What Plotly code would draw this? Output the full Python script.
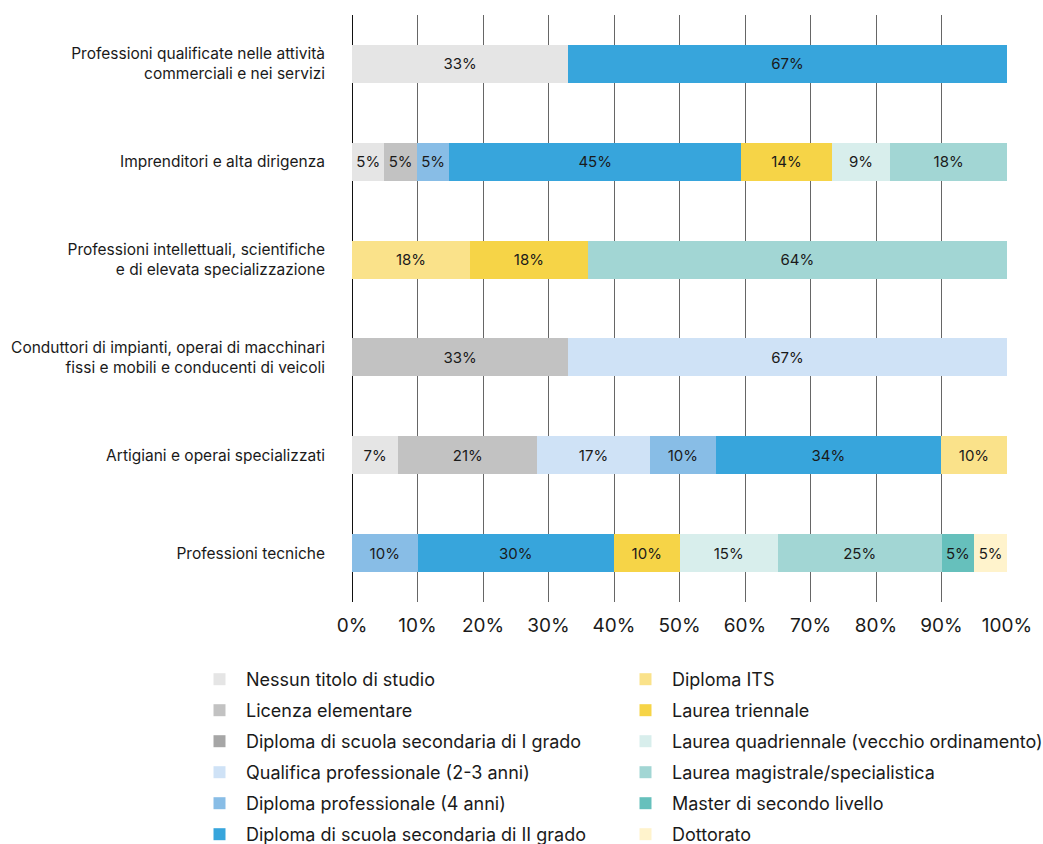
import plotly.graph_objects as go

# Occupational groups (top to bottom)
categories = [
    "Professioni qualificate nelle attività<br>commerciali e nei servizi",
    "Imprenditori e alta dirigenza",
    "Professioni intellettuali, scientifiche<br>e di elevata specializzazione",
    "Conduttori di impianti, operai di macchinari<br>fissi e mobili e conducenti di veicoli",
    "Artigiani e operai specializzati",
    "Professioni tecniche",
]

# Educational level series (share %, None = not present), in category order
nessun_titolo = [33, 5, None, None, 7, None]
licenza_elementare = [None, 5, None, 33, 21, None]
diploma_primo_grado = [None, None, None, None, None, None]
qualifica_professionale = [None, None, None, 67, 17, None]
diploma_professionale = [None, 5, None, None, 10, 10]
diploma_secondo_grado = [67, 45, None, None, 34, 30]
diploma_its = [None, None, 18, None, 10, None]
laurea_triennale = [None, 14, 18, None, None, 10]
laurea_quadriennale = [None, 9, None, None, None, 15]
laurea_magistrale = [None, 18, 64, None, None, 25]
master_secondo_livello = [None, None, None, None, None, 5]
dottorato = [None, None, None, None, None, 5]

# Axis ticks
tick_values = [0, 10, 20, 30, 40, 50, 60, 70, 80, 90, 100]
tick_labels = ["0%", "10%", "20%", "30%", "40%", "50%", "60%", "70%", "80%", "90%", "100%"]

series = [
    ("Nessun titolo di studio", nessun_titolo, "#e5e5e5", "legend"),
    ("Licenza elementare", licenza_elementare, "#c2c2c2", "legend"),
    ("Diploma di scuola secondaria di I grado", diploma_primo_grado, "#a6a6a6", "legend"),
    ("Qualifica professionale (2-3 anni)", qualifica_professionale, "#cfe2f6", "legend"),
    ("Diploma professionale (4 anni)", diploma_professionale, "#88bde6", "legend"),
    ("Diploma di scuola secondaria di II grado", diploma_secondo_grado, "#37a5dc", "legend"),
    ("Diploma ITS", diploma_its, "#fae28a", "legend2"),
    ("Laurea triennale", laurea_triennale, "#f6d447", "legend2"),
    ("Laurea quadriennale (vecchio ordinamento)", laurea_quadriennale, "#d8eeec", "legend2"),
    ("Laurea magistrale/specialistica", laurea_magistrale, "#a2d6d4", "legend2"),
    ("Master di secondo livello", master_secondo_livello, "#66c0bc", "legend2"),
    ("Dottorato", dottorato, "#fff3cc", "legend2"),
]

FONT = "Inter, 'Noto Sans', sans-serif"
INK = "#1a1a1a"

fig = go.Figure()
for name, values, color, legend in series:
    fig.add_trace(go.Bar(
        name=name,
        y=categories,
        x=values,
        orientation="h",
        marker=dict(color=color, line=dict(width=0)),
        customdata=values,
        texttemplate="%{customdata}%",
        textposition="inside",
        insidetextanchor="middle",
        textangle=0,
        constraintext="none",
        insidetextfont=dict(family=FONT, size=15, color=INK),
        legend=legend,
        legendgroup=name,
        hoverinfo="skip",
    ))

W, H = 1043, 844
ml, mr, mt, mb = 352, 36, 15, 242
plot_w = W - ml - mr
plot_h = H - mt - mb

def px_to_paper_x(px):
    return (px - ml) / plot_w

def px_to_paper_y(py):
    return (H - mb - py) / plot_h

legend_style = dict(
    orientation="v",
    xanchor="left",
    yanchor="top",
    y=px_to_paper_y(661),
    font=dict(family=FONT, size=18, color=INK),
    itemwidth=43,
    tracegroupgap=4.6,
    traceorder="grouped",
    bgcolor="rgba(0,0,0,0)",
    itemclick=False,
    itemdoubleclick=False,
)

fig.update_layout(
    width=W,
    height=H,
    barmode="stack",
    barnorm="percent",
    bargap=0.61,
    plot_bgcolor="white",
    paper_bgcolor="white",
    font=dict(family=FONT, color=INK),
    margin=dict(l=ml, r=mr, t=mt, b=mb, pad=0, autoexpand=False),
    legend=dict(x=px_to_paper_x(193), **legend_style),
    legend2=dict(x=px_to_paper_x(619), **legend_style),
    xaxis=dict(
        range=[0, 100],
        tickmode="array",
        tickvals=tick_values,
        ticktext=tick_labels,
        showgrid=True,
        gridcolor="#666666",
        gridwidth=1,
        zeroline=True,
        zerolinecolor="#111111",
        zerolinewidth=1,
        showline=False,
        ticks="",
        ticklabelstandoff=10,
        tickfont=dict(family=FONT, size=19, color=INK),
        fixedrange=True,
    ),
    yaxis=dict(
        categoryorder="array",
        categoryarray=categories,
        autorange="reversed",
        showgrid=False,
        zeroline=False,
        showline=False,
        ticks="",
        ticklabelstandoff=26,
        tickfont=dict(family=FONT, size=15.5, color=INK),
        fixedrange=True,
    ),
)

fig.write_html("out.html")
